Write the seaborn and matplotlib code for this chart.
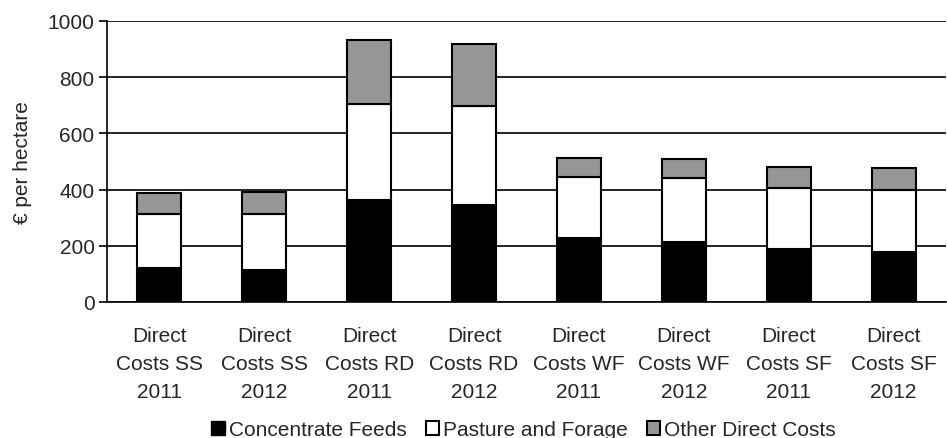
import numpy as np
import pandas as pd
import matplotlib.pyplot as plt
import seaborn as sns
from matplotlib.patches import Patch
from matplotlib.ticker import FixedLocator

categories = ["Direct\nCosts SS\n2011", "Direct\nCosts SS\n2012",
              "Direct\nCosts RD\n2011", "Direct\nCosts RD\n2012",
              "Direct\nCosts WF\n2011", "Direct\nCosts WF\n2012",
              "Direct\nCosts SF\n2011", "Direct\nCosts SF\n2012"]
concentrate = [119, 112, 364, 345, 226, 212, 188, 178]
pasture = [194, 202, 340, 353, 219, 228, 216, 222]
other = [76, 76, 228, 221, 67, 68, 76, 78]

sns.set_style("white")
plt.rcParams['font.family'] = ['Liberation Sans', 'DejaVu Sans']

df = pd.DataFrame({"cat": categories, "conc": concentrate,
                   "past": pasture, "other": other})

fig, ax = plt.subplots(figsize=(9.47, 4.39), dpi=100)

kw = dict(edgecolor="black", linewidth=1.5, width=0.42, ax=ax, zorder=3)
sns.barplot(data=df, x="cat", y="conc", color="black", **kw)
sns.barplot(data=df, x="cat", y="past", bottom=df["conc"], color="white", **kw)
sns.barplot(data=df, x="cat", y="other", bottom=df["conc"] + df["past"],
            color="#969696", **kw)

ax.set_ylim(0, 1000)
ax.set_xlim(-0.5, 7.5)
ax.set_yticks(range(0, 1001, 200))
ax.yaxis.grid(True, color="black", linewidth=1.2, zorder=0)
ax.set_axisbelow(True)
for s in ["top", "right"]:
    ax.spines[s].set_visible(False)
for s in ["left", "bottom"]:
    ax.spines[s].set_color("black")
    ax.spines[s].set_linewidth(1.2)

ax.xaxis.set_minor_locator(FixedLocator(np.arange(-0.5, 8, 1)))
ax.tick_params(axis="x", which="major", length=0, pad=17, labelsize=15)
ax.tick_params(axis="x", which="minor", length=6, width=1.2, color="black",
               direction="out")
ax.tick_params(axis="y", length=6, width=1.2, color="black", direction="out",
               labelsize=15, left=True, pad=3)
for t in ax.get_xticklabels():
    t.set_linespacing(1.6)

ax.set_xlabel("")
ax.set_ylabel("€ per hectare", fontsize=15, labelpad=11)

handles = [Patch(facecolor="black", edgecolor="black"),
           Patch(facecolor="white", edgecolor="black", linewidth=1.5),
           Patch(facecolor="#969696", edgecolor="black", linewidth=1.5)]
fig.legend(handles, ["Concentrate Feeds", "Pasture and Forage", "Other Direct Costs"],
           loc="lower center", bbox_to_anchor=(0.553, -0.045), ncol=3, frameon=False,
           fontsize=15, handlelength=0.65, handleheight=0.65, handletextpad=0.2,
           columnspacing=0.9)

fig.subplots_adjust(left=0.113, right=0.999, top=0.95, bottom=0.31)
fig.savefig("out.png")
